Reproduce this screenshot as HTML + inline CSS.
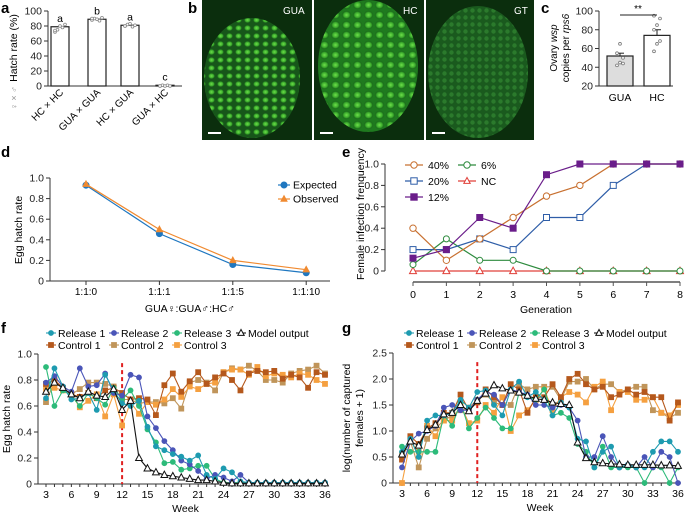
<!DOCTYPE html>
<html><head><meta charset="utf-8">
<style>
body{margin:0;background:#fff;}
svg{display:block;font-family:"Liberation Sans",Arial,sans-serif;}
</style></head>
<body>
<svg id="fig" width="685" height="514" viewBox="0 0 685 514" xmlns="http://www.w3.org/2000/svg">
<defs>
<radialGradient id="cellg" cx="50%" cy="50%" r="50%"><stop offset="0" stop-color="#6fe04a"/><stop offset="0.6" stop-color="#36a52a"/><stop offset="1" stop-color="#0e3b10" stop-opacity="0"/></radialGradient>
<pattern id="cells1" width="9" height="8" patternUnits="userSpaceOnUse"><rect width="9" height="8" fill="#17561a"/><ellipse cx="4.5" cy="4" rx="4" ry="3.5" fill="url(#cellg)"/></pattern>
<pattern id="cells2" width="11" height="10" patternUnits="userSpaceOnUse"><rect width="11" height="10" fill="#1f7a1f"/><ellipse cx="5.5" cy="5" rx="5" ry="4.5" fill="url(#cellg)"/></pattern>
<pattern id="cells3" width="7" height="7" patternUnits="userSpaceOnUse"><rect width="7" height="7" fill="#1a5a1e"/><circle cx="3.5" cy="3.5" r="2.2" fill="#2b7a2c"/></pattern>
</defs>
<g font-weight="bold" font-size="15" fill="#000">
<text x="1" y="13">a</text>
<text x="188" y="13">b</text>
<text x="541" y="13">c</text>
<text x="1" y="157">d</text>
<text x="342" y="157">e</text>
<text x="1" y="333">f</text>
<text x="342" y="333">g</text>
</g>
<g>
<rect x="202" y="0" width="110" height="140" fill="#0b2e0d"/>
<ellipse cx="252" cy="78" rx="48" ry="60" fill="url(#cells1)"/>
<rect x="314" y="0" width="110" height="140" fill="#0b2e0d"/>
<ellipse cx="368" cy="66" rx="50" ry="66" fill="url(#cells2)"/>
<rect x="426" y="0" width="108" height="140" fill="#0b2e0d"/>
<ellipse cx="478" cy="72" rx="50" ry="66" fill="url(#cells3)"/>
<g fill="#fff" font-size="10">
<text x="283" y="14">GUA</text>
<text x="403" y="14">HC</text>
<text x="514" y="14">GT</text>
</g>
<rect x="208" y="132" width="13" height="2" fill="#fff"/><rect x="320" y="132" width="13" height="2" fill="#fff"/><rect x="432" y="132" width="13" height="2" fill="#fff"/>
</g>
<g id="plots"></g>
</svg>
<script>
const aCats=["HC × HC","GUA × GUA","HC × GUA","GUA × HC"];
const aVals=[79,89,81,1];
const aLetters=["a","b","a","c"];
const aPts=[[72,75,80,78,82,74],[88,90,89,87,91,90],[80,82,83,79,81,80],[0,1,0,1,0,0]];
const cCats=["GUA","HC"];
const cVals=[52,74];
const cErr=[3,6];
const cPts=[[42,45,50,55,65,44],[57,65,68,80,85,92,95]];
const dCats=["1:1:0","1:1:1","1:1:5","1:1:10"];
const dExpected=[0.93,0.46,0.16,0.08];
const dObserved=[0.94,0.50,0.20,0.11];
const eGen=[0,1,2,3,4,5,6,7,8];
const e40=[0.4,0.1,0.3,0.5,0.7,0.8,1,1,1];
const e20=[0.2,0.2,0.3,0.2,0.5,0.5,0.8,1,1];
const e12=[0.12,0.2,0.5,0.4,0.9,1,1,1,1];
const e6=[0.06,0.3,0.1,0.1,0,0,0,0,0];
const eNC=[0,0,0,0,0,0,0,0,0];
const weeks=[3,4,5,6,7,8,9,10,11,12,13,14,15,16,17,18,19,20,21,22,23,24,25,26,27,28,29,30,31,32,33,34,35,36];
const fR1=[.66,.89,.75,.65,.66,.70,.57,.84,.72,.62,.60,.64,.44,.29,.26,.23,.21,.18,.22,.07,.04,.12,.09,.02,.01,.01,.01,.01,.01,.01,.01,.01,.01,.01];
const fR2=[.78,.83,.75,.71,.89,.75,.76,.85,.70,.68,.84,.82,.52,.43,.33,.26,.18,.15,.10,.04,.07,.05,.02,.07,.01,.01,.01,.01,.01,.01,.01,.01,.01,.01];
const fR3=[.90,.60,.72,.68,.60,.70,.66,.61,.74,.65,.72,.60,.42,.32,.16,.17,.11,.12,.14,.14,.04,.01,.01,.01,.01,.01,.01,.01,.01,.01,.01,.01,.01,.01];
const fC1=[.77,.80,.74,.69,.67,.70,.66,.72,.74,.70,.65,.66,.65,.53,.76,.85,.71,.79,.86,.77,.82,.85,.80,.72,.85,.87,.86,.87,.81,.84,.82,.74,.86,.84];
const fC2=[.63,.79,.73,.69,.73,.78,.78,.77,.75,.65,.65,.62,.63,.63,.62,.66,.58,.78,.80,.78,.72,.86,.89,.88,.91,.87,.80,.80,.78,.85,.87,.88,.91,.85];
const fC3=[.73,.74,.72,.69,.59,.64,.69,.52,.69,.45,.63,.54,.63,.61,.65,.73,.67,.75,.73,.77,.78,.86,.88,.88,.84,.90,.83,.85,.84,.82,.85,.84,.80,.77];
const fModel=[.71,.78,.74,.69,.66,.71,.68,.67,.73,.57,.64,.20,.12,.09,.07,.06,.05,.04,.03,.03,.02,.01,.005,.005,.005,.005,.005,.005,.005,.005,.005,.005,.005,.005];
const gR1=[.6,.85,.5,1.2,1.3,1.3,1.35,1.6,1.45,1.75,1.78,1.5,1.3,1.8,1.95,1.65,1.75,1.6,1.3,1.55,1.45,.85,.8,.3,.6,.7,.3,.35,.3,.3,.6,.8,.8,.6];
const gR2=[.3,.8,.95,1.0,1.1,1.45,1.5,1.4,1.4,1.6,1.75,1.7,1.5,1.8,1.75,1.7,1.5,1.5,1.45,1.5,1.45,1.2,.5,.5,.9,.5,.3,.35,.3,.5,.3,.6,.5,0];
const gR3=[.7,.6,.6,.6,.6,1.3,1.1,1.55,1.05,1.25,1.45,1.25,1.05,1.05,1.75,1.65,1.6,1.8,1.3,1.35,1.25,.75,.6,.3,.7,.3,.3,.3,.3,0,.3,.3,0,.3];
const gC1=[.45,.9,.75,1.05,1.15,1.35,1.35,1.7,1.4,1.55,1.8,1.65,1.5,1.9,1.8,1.35,1.65,1.65,1.9,1.65,2.0,2.1,1.9,1.8,1.85,1.65,1.7,1.8,1.7,1.75,1.65,1.65,1.2,1.55];
const gC2=[.55,.8,.3,.85,1.05,1.2,1.3,1.4,1.45,1.6,1.7,1.55,1.5,1.5,1.9,1.8,1.85,1.85,1.85,1.6,1.95,1.95,2.0,1.8,1.9,1.9,1.75,1.8,1.85,1.85,1.4,1.35,1.25,1.35];
const gC3=[0,.8,.6,1.1,.9,1.2,1.2,1.5,1.15,1.2,1.5,1.35,1.65,1.0,1.3,1.4,1.6,1.8,1.4,1.65,1.75,1.7,1.55,1.85,1.95,1.4,1.75,1.75,1.6,1.6,1.65,1.35,1.3,1.5];
const gModel=[.55,.8,.72,1.02,1.12,1.32,1.35,1.5,1.38,1.58,1.72,1.88,1.82,1.78,1.74,1.68,1.62,1.6,1.55,1.52,1.5,.78,.48,.4,.38,.37,.36,.35,.35,.35,.35,.34,.34,.33];
const fTicks=[3,6,9,12,15,18,21,24,27,30,33,36];
const fYTicks=[0,0.2,0.4,0.6,0.8,1.0];
const gYTicks=[0,0.5,1.0,1.5,2.0,2.5];

const NS="http://www.w3.org/2000/svg";
const root=document.getElementById('plots');
function mk(tag,attrs,parent,txt){const e=document.createElementNS(NS,tag);for(const k in attrs)e.setAttribute(k,attrs[k]);if(txt!==undefined)e.textContent=txt;(parent||root).appendChild(e);return e;}
function lin(d0,d1,r0,r1){return v=>r0+(v-d0)/(d1-d0)*(r1-r0);}
function fmt(v,dec){return v===0?"0":(dec?v.toFixed(1):String(v));}
function yAxis(g,x,sy,ticks,y0,y1,fs,dec){
  const ax=mk('line',{x1:x,x2:x,y1:y0,y2:y1,stroke:'#333','stroke-width':1},g);
  
  ticks.forEach(t=>{mk('line',{x1:x-4,x2:x,y1:sy(t),y2:sy(t),stroke:'#333'},g);
    const tl=mk('text',{x:x-6,y:sy(t)+3.5,'text-anchor':'end','font-size':fs||10.5,fill:'#222'},g,fmt(t,dec));
    });
}
function marker(g,shape,x,y,color,fill,r){
  let m;
  if(shape==='circle')m=mk('circle',{cx:x,cy:y,r:r,fill:fill,stroke:color,'stroke-width':1},g);
  else if(shape==='square')m=mk('rect',{x:x-r,y:y-r,width:2*r,height:2*r,fill:fill,stroke:color,'stroke-width':1},g);
  else m=mk('polygon',{points:`${x},${y-r*1.1} ${x-r},${y+r*0.75} ${x+r},${y+r*0.75}`,fill:fill,stroke:color,'stroke-width':1},g);
  return m;
}
function series(g,name,xs,ys,sx,sy,color,shape,fill,r,sw){
  const sg=mk('g',{},g);
  
  mk('polyline',{points:xs.map((x,i)=>sx(x)+','+sy(ys[i])).join(' '),fill:'none',stroke:color,'stroke-width':sw||1.2},sg);
  xs.forEach((x,i)=>{const p=marker(sg,shape,sx(x),sy(ys[i]),color,fill,r);
    });
}

(function(){
  const g=mk('g',{});
  const sy=lin(0,100,86,11);
  yAxis(g,48,sy,[0,20,40,60,80,100],11,86,10.5,false);
  mk('line',{x1:48,x2:182,y1:86,y2:86,stroke:'#333'},g);
  const cx=[60,97,130,165];
  aCats.forEach((c,i)=>{
    const b=mk('rect',{x:cx[i]-9,y:sy(aVals[i]),width:18,height:86-sy(aVals[i]),fill:'#fff',stroke:'#222','stroke-width':1.2},g);
    
    aPts[i].forEach((v,j)=>mk('circle',{cx:cx[i]-5+(j%5)*2.5,cy:sy(v),r:1.4,fill:'#fff',stroke:'#888','stroke-width':0.8},g));
    mk('text',{x:cx[i],y:sy(aVals[i])-5,'text-anchor':'middle','font-size':10.5},g,aLetters[i]);
    const t=mk('text',{x:cx[i]+4,y:93,'text-anchor':'end','font-size':10,transform:`rotate(-45 ${cx[i]+4} 93)`},g,c);
    
  });
  const yt=mk('text',{x:17,y:48,'text-anchor':'middle','font-size':10.5,transform:'rotate(-90 17 48)'},g,'Hatch rate (%)');
  
  mk('text',{x:17,y:98,'text-anchor':'middle','font-size':9,fill:'#999',transform:'rotate(-90 17 98)'},g,'♀ × ♂');
})();

(function(){
  const g=mk('g',{});
  const sy=lin(20,100,86,11);
  yAxis(g,599,sy,[20,40,60,80,100],11,86,10.5,false);
  mk('line',{x1:599,x2:673,y1:86,y2:86,stroke:'#333'},g);
  const cx=[620,657];const fills=['#ddd','#fff'];
  cCats.forEach((c,i)=>{
    const b=mk('rect',{x:cx[i]-13,y:sy(cVals[i]),width:26,height:86-sy(cVals[i]),fill:fills[i],stroke:'#222','stroke-width':1.2},g);
    
    mk('line',{x1:cx[i],x2:cx[i],y1:sy(cVals[i]),y2:sy(cVals[i]+cErr[i]),stroke:'#222'},g);
    mk('line',{x1:cx[i]-4,x2:cx[i]+4,y1:sy(cVals[i]+cErr[i]),y2:sy(cVals[i]+cErr[i]),stroke:'#222'},g);
    cPts[i].forEach((v,j)=>mk('circle',{cx:cx[i]-3+(j%3)*3,cy:sy(v),r:1.4,fill:'#fff',stroke:'#777','stroke-width':0.8},g));
    mk('text',{x:cx[i],y:101,'text-anchor':'middle','font-size':10.5},g,c);
  });
  mk('line',{x1:620,x2:657,y1:15,y2:15,stroke:'#222'},g);
  mk('text',{x:638,y:12,'text-anchor':'middle','font-size':10},g,'**');
  const t1=mk('text',{x:557,y:48,'text-anchor':'middle','font-size':10,transform:'rotate(-90 557 48)'},g);
  
  t1.innerHTML='Ovary <tspan font-style="italic">wsp</tspan>';
  const t2=mk('text',{x:569,y:48,'text-anchor':'middle','font-size':10,transform:'rotate(-90 569 48)'},g);
  t2.innerHTML='copies per <tspan font-style="italic">rps6</tspan>';
})();

(function(){
  const g=mk('g',{});
  const sy=lin(0,1,281,178);
  const sx=i=>86+i*73.4;
  yAxis(g,50,sy,[0,0.2,0.4,0.6,0.8,1.0],178,281,10.5,true);
  mk('line',{x1:50,x2:330,y1:281,y2:281,stroke:'#333'},g);
  dCats.forEach((c,i)=>{mk('line',{x1:sx(i),x2:sx(i),y1:281,y2:285,stroke:'#333'},g);
    const t=mk('text',{x:sx(i),y:295,'text-anchor':'middle','font-size':10},g,c);
    });
  const idx=dCats.map((c,i)=>i);
  series(g,'expected-line',idx,dExpected,sx,sy,'#1f77c0','circle','#1f77c0',3,1.2);
  series(g,'observed-line',idx,dObserved,sx,sy,'#f08a30','tri','#f08a30',3,1.2);
  const x1=mk('text',{x:190,y:312,'text-anchor':'middle','font-size':10.5},g,'GUA♀:GUA♂:HC♂');
  
  const yt=mk('text',{x:22,y:230,'text-anchor':'middle','font-size':10.5,transform:'rotate(-90 22 230)'},g,'Egg hatch rate');
  
  [['Expected','#1f77c0','circle',185],['Observed','#f08a30','tri',199]].forEach(l=>{
    const lg=mk('g',{},g);
    mk('line',{x1:278,x2:290,y1:l[3],y2:l[3],stroke:l[1],'stroke-width':1.2},lg);
    marker(lg,l[2],284,l[3],l[1],l[1],3);
    mk('text',{x:293,y:l[3]+3.5,'font-size':10.5},lg,l[0]);
  });
})();

(function(){
  const g=mk('g',{});
  const sy=lin(0,1,271,164);
  const sx=lin(0,8,413,680);
  yAxis(g,385,sy,[0,0.2,0.4,0.6,0.8,1.0],164,271,10.5,true);
  mk('line',{x1:413,x2:680,y1:282,y2:282,stroke:'#555','stroke-width':1.5},g);
  eGen.forEach(v=>{mk('line',{x1:sx(v),x2:sx(v),y1:282,y2:286,stroke:'#555'},g);
    const t=mk('text',{x:sx(v),y:298,'text-anchor':'middle','font-size':10.5},g,String(v));
    });
  series(g,'series-nc',eGen,eNC,sx,sy,'#e0403a','tri','#fff',3.5,1.2);
  series(g,'series-6pct',eGen,e6,sx,sy,'#2e8b3e','circle','#fff',3,1.2);
  series(g,'series-20pct',eGen,e20,sx,sy,'#2f5ea8','square','#fff',3,1.2);
  series(g,'series-40pct',eGen,e40,sx,sy,'#c87030','circle','#fff',3.2,1.2);
  series(g,'series-12pct',eGen,e12,sx,sy,'#6a1d8a','square','#6a1d8a',3,1.2);
  const xt=mk('text',{x:546,y:313,'text-anchor':'middle','font-size':10.5},g,'Generation');
  
  const yt=mk('text',{x:364,y:214,'text-anchor':'middle','font-size':10.5,transform:'rotate(-90 364 214)'},g,'Female infection frenquency');
  
  [['40%','#c87030','circle','#fff',405,165],['20%','#2f5ea8','square','#fff',405,181],['12%','#6a1d8a','square','#6a1d8a',405,197],['6%','#2e8b3e','circle','#fff',458,165],['NC','#e0403a','tri','#fff',458,181]].forEach(l=>{
    const lg=mk('g',{},g);
    mk('line',{x1:l[4],x2:l[4]+18,y1:l[5],y2:l[5],stroke:l[1],'stroke-width':1.2},lg);
    marker(lg,l[2],l[4]+9,l[5],l[1],l[3],3.2);
    mk('text',{x:l[4]+23,y:l[5]+4,'font-size':10.5},lg,l[0]);
  });
})();

const cols={r1:'#1e9bb0',r2:'#4a55b8',r3:'#2dbb7a',c1:'#b5581c',c2:'#c0955a',c3:'#f5a040'};
function timePanel(id,ox,ax,x3,x36,yTop,yBot,yMax,yTicks,data,yTitleLines,ytx){
  const g=mk('g',{});
  const sy=lin(0,yMax,yBot,yTop);
  const sx=lin(3,36,x3,x36);
  yAxis(g,ax,sy,yTicks,yTop,yBot,10.5,true);
  mk('line',{x1:ax,x2:x36+3,y1:yBot,y2:yBot,stroke:'#333'},g);
  weeks.forEach(w=>mk('line',{x1:sx(w),x2:sx(w),y1:yBot,y2:yBot+3,stroke:'#333'},g));
  fTicks.forEach(w=>{const t=mk('text',{x:sx(w),y:yBot+14,'text-anchor':'middle','font-size':10.5},g,String(w));
    });
  const xt=mk('text',{x:(x3+x36)/2,y:yBot+28,'text-anchor':'middle','font-size':10.5},g,'Week');
  
  const rl=mk('line',{x1:sx(12),x2:sx(12),y1:sy(yMax*0.93),y2:yBot,stroke:'#e02020','stroke-width':2,'stroke-dasharray':'4,3'},g);
  
  series(g,'control-2',weeks,data[4],sx,sy,cols.c2,'square',cols.c2,2.4,1.1);
  series(g,'control-3',weeks,data[5],sx,sy,cols.c3,'square',cols.c3,2.4,1.1);
  series(g,'control-1',weeks,data[3],sx,sy,cols.c1,'square',cols.c1,2.4,1.1);
  series(g,'release-3',weeks,data[2],sx,sy,cols.r3,'circle',cols.r3,2.4,1.1);
  series(g,'release-2',weeks,data[1],sx,sy,cols.r2,'circle',cols.r2,2.4,1.1);
  series(g,'release-1',weeks,data[0],sx,sy,cols.r1,'circle',cols.r1,2.4,1.1);
  series(g,'model-output',weeks,data[6],sx,sy,'#111','tri','#fff',3.4,1.1);
  yTitleLines.forEach((s,i)=>{const t=mk('text',{x:ytx+i*13,y:(yTop+yBot)/2,'text-anchor':'middle','font-size':10.5,transform:`rotate(-90 ${ytx+i*13} ${(yTop+yBot)/2})`},g,s);
    });
  const leg=[['Release 1',cols.r1,'circle',cols.r1,0,0],['Release 2',cols.r2,'circle',cols.r2,63,0],['Release 3',cols.r3,'circle',cols.r3,126,0],['Model output','#111','tri','#fff',190,0],
             ['Control 1',cols.c1,'square',cols.c1,0,12],['Control 2',cols.c2,'square',cols.c2,63,12],['Control 3',cols.c3,'square',cols.c3,126,12]];
  leg.forEach(l=>{const lg=mk('g',{},g);
    const lx=ox+l[4],ly=333+l[5];
    mk('line',{x1:lx,x2:lx+10,y1:ly,y2:ly,stroke:l[1],'stroke-width':1.1},lg);
    marker(lg,l[2],lx+5,ly,l[1],l[3],l[2]==='tri'?3.2:2.4);
    mk('text',{x:lx+12,y:ly+4,'font-size':10.5},lg,l[0]);});
}
timePanel('panel-f-egg-hatch-time',46,38,46,325,354,484,1.0,fYTicks,[fR1,fR2,fR3,fC1,fC2,fC3,fModel],['Egg hatch rate'],10);
timePanel('panel-g-captured-females',404,393,402,678,353,483,2.5,gYTicks,[gR1,gR2,gR3,gC1,gC2,gC3,gModel],['log(number of captured','females + 1)'],350);
</script>
</body></html>
